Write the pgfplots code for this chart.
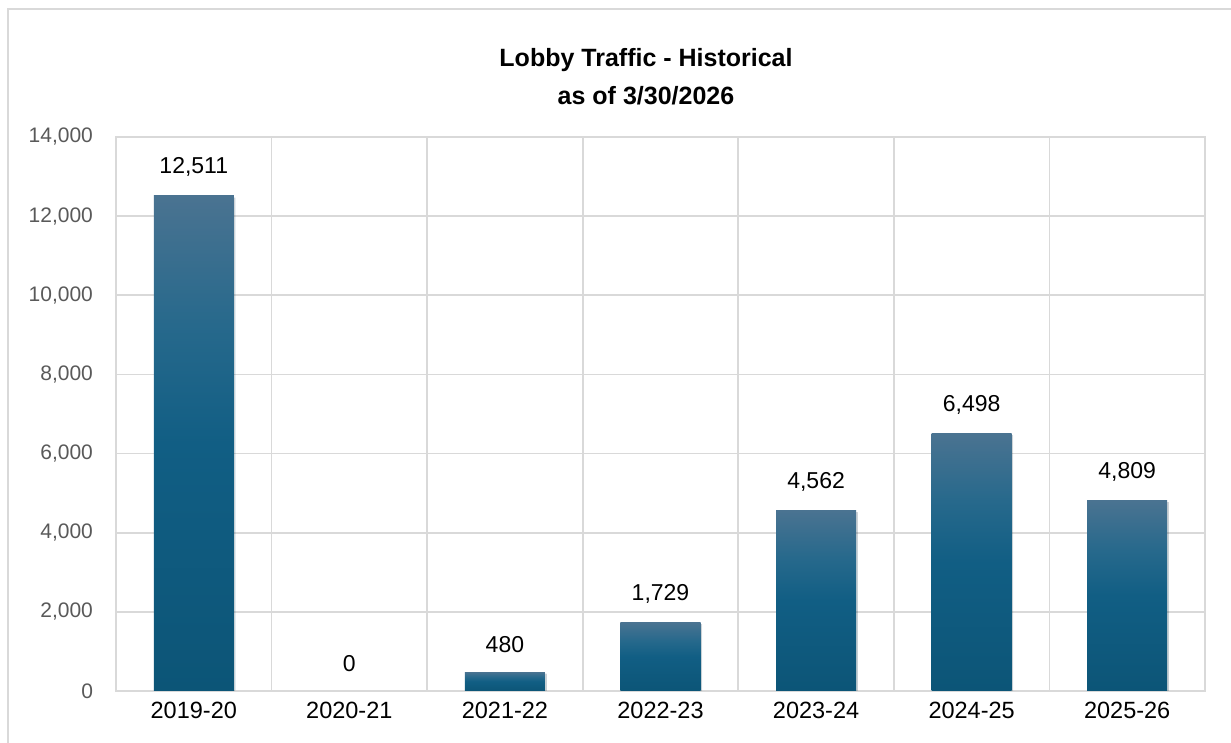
\documentclass[border=0pt]{standalone}
\usepackage{fontspec}
\setmainfont{Liberation Sans}
\usepackage{pgfplots}
\pgfplotsset{compat=1.18}

\definecolor{gridgray}{HTML}{D9D9D9}
\definecolor{ticktext}{HTML}{595959}
\definecolor{bartop}{HTML}{4A7391}
\definecolor{barmidb}{HTML}{27698C}
\definecolor{barmid}{HTML}{115E84}
\definecolor{barbot}{HTML}{0C5577}
\pgfdeclareverticalshading{barshade}{100bp}{color(0bp)=(barbot); color(25bp)=(barbot); color(50bp)=(barmid); color(62bp)=(barmidb); color(75bp)=(bartop); color(100bp)=(bartop)}

\begin{document}
\begin{tikzpicture}
\useasboundingbox (-58pt,-26pt) rectangle (557.5pt,345.5pt);
\draw[gridgray, line width=1pt] (-54pt,-80pt) rectangle (640pt,341pt);
\node[anchor=base, font=\fontsize{12.5}{14}\selectfont\bfseries] at (265pt,312pt) {Lobby Traffic - Historical};
\node[anchor=base, font=\fontsize{12.5}{14}\selectfont\bfseries] at (265pt,293pt) {as of 3/30/2026};
\begin{axis}[at={(0,0)}, anchor=south west,
  width=544.5pt, height=277pt, scale only axis,
  xmin=-0.5, xmax=6.5, ymin=0, ymax=14000,
  xtick={0,...,6},
  xticklabels={2019-20,2020-21,2021-22,2022-23,2023-24,2024-25,2025-26},
  minor xtick={0.5,1.5,2.5,3.5,4.5,5.5},
  xminorgrids=true, xmajorgrids=false,
  ytick={0,2000,...,14000}, ymajorgrids=true,
  grid style={gridgray, line width=0.8pt},
  minor grid style={gridgray, line width=0.8pt},
  axis line style={gridgray, line width=0.8pt},
  major tick length=0pt, minor tick length=0pt,
  scaled y ticks=false,
  yticklabel style={font=\fontsize{10.5}{12}\selectfont, text=ticktext, xshift=-8pt},
  xticklabel style={font=\fontsize{11.75}{13}\selectfont, yshift=-2pt},
  /pgf/number format/assume math mode=true,
  /pgf/number format/1000 sep={,},
  every node near coord/.append style={font=\fontsize{11.5}{13}\selectfont, text=black, yshift=6pt},
  bar/.style={ybar, bar width=40pt, bar shift=0pt, draw=none, shade, shading=barshade,
    preaction={fill=black, fill opacity=0.12, transform canvas={xshift=0.8pt, yshift=-0.8pt}},
    nodes near coords},
]
\addplot[bar] coordinates {(0,12511)};
\addplot[ybar, bar width=40pt, bar shift=0pt, draw=none, fill=none, nodes near coords] coordinates {(1,0)};
\addplot[bar] coordinates {(2,480)};
\addplot[bar] coordinates {(3,1729)};
\addplot[bar] coordinates {(4,4562)};
\addplot[bar] coordinates {(5,6498)};
\addplot[bar] coordinates {(6,4809)};
\end{axis}
\end{tikzpicture}
\end{document}
